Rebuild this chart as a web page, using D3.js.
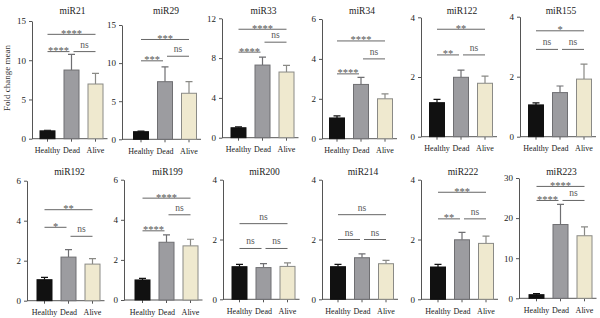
<!DOCTYPE html>
<html>
<head>
<meta charset="utf-8">
<script src="https://cdn.jsdelivr.net/npm/d3@7"></script>
<style>
  body { margin: 0; background: #fff; }
  svg text { font-family: "Liberation Serif", "DejaVu Serif", serif; }
</style>
</head>
<body>
<div id="chart"></div>
<script>
const panels = ["miR21", "miR29", "miR33", "miR34", "miR122", "miR155",
                "miR192", "miR199", "miR200", "miR214", "miR222", "miR223"];
const groups = ["Healthy", "Dead", "Alive"];

// fold change mean per group (Healthy, Dead, Alive)
const means = [
  [1.0, 8.75, 6.97], [1.0, 7.56, 6.04], [1.0, 7.3, 6.6], [1.04, 2.72, 2.0],
  [1.14, 1.99, 1.79], [1.06, 1.47, 1.92], [1.05, 2.18, 1.83], [1.0, 2.88, 2.7],
  [1.09, 1.06, 1.1], [1.09, 1.39, 1.19], [1.08, 1.99, 1.87], [0.9, 18.4, 15.6]
];
// upper error bar length
const errors = [
  [0.08, 2.0, 1.36], [0.08, 1.94, 1.52], [0.08, 0.8, 0.66], [0.1, 0.35, 0.25],
  [0.11, 0.24, 0.24], [0.07, 0.22, 0.5], [0.12, 0.37, 0.27], [0.08, 0.37, 0.33],
  [0.08, 0.13, 0.12], [0.08, 0.13, 0.11], [0.09, 0.25, 0.24], [0.26, 5.0, 2.2]
];
const yTicks = [
  [0, 5, 10, 15], [0, 5, 10, 15], [0, 4, 8, 12], [0, 2, 4, 6], [0, 2, 4], [0, 2, 4],
  [0, 2, 4, 6], [0, 2, 4, 6], [0, 2, 4], [0, 2, 4], [0, 2, 4], [0, 10, 20, 30]
];
// significance: Healthy-Alive, Healthy-Dead, Dead-Alive
const sigLabels = [
  ["****", "****", "ns"], ["***", "***", "ns"], ["****", "****", "ns"], ["****", "****", "ns"],
  ["**", "**", "ns"], ["*", "ns", "ns"], ["**", "*", "ns"], ["****", "****", "ns"],
  ["ns", "ns", "ns"], ["ns", "ns", "ns"], ["***", "**", "ns"], ["****", "****", "ns"]
];
const sigLevels = [
  [13.3, 11.1, 11.1], [13.1, 10.3, 10.9], [10.9, 8.6, 9.6], [4.9, 3.25, 4.0],
  [3.6, 2.74, 2.74], [3.53, 2.91, 2.91], [4.55, 3.67, 3.22], [5.08, 3.45, 4.25],
  [2.53, 1.7, 1.7], [2.83, 2.0, 2.0], [3.58, 2.69, 2.69], [27.9, 24.4, 24.4]
];

// panel layout (pixels)
const axisX = [32, 122, 222, 322, 421, 520, 27, 124, 223, 322, 421, 519];
const barX = [39.5, 133, 230.5, 329, 429, 528, 36.5, 134.5, 231.5, 330, 430, 528.5];
const baseY = [138.7, 139.3, 137.7, 138.7, 136.7, 136.7, 300.7, 300, 299.3, 299.3, 299.3, 298.3];
const topY = [21, 25, 18.3, 19, 17.3, 16.7, 180.7, 179.7, 179.7, 179.7, 179.7, 178];

const fills = { Healthy: "#111111", Dead: "#9c9ca0", Alive: "#efe9cf" };
const strokes = { Healthy: "#111111", Dead: "#6f6f72", Alive: "#8a8a86" };
const ink = "#555";
const serif = "Liberation Serif, DejaVu Serif, serif";

const svg = d3.select("#chart")
  .append("svg")
  .attr("width", 600)
  .attr("height", 318);

svg.append("text")
  .attr("transform", "translate(9.5,78) rotate(-90)")
  .attr("text-anchor", "middle")
  .attr("font-size", 9)
  .attr("fill", "#333")
  .text("Fold change mean");

panels.forEach((name, i) => {
  const g = svg.append("g");
  const row = Math.floor(i / 6);

  const x = d3.scaleBand()
    .domain(groups)
    .range([barX[i] - 4, barX[i] + 68])
    .paddingInner(1 / 3)
    .paddingOuter(1 / 6);

  const y = d3.scaleLinear()
    .domain([0, yTicks[i][yTicks[i].length - 1]])
    .range([baseY[i], topY[i]]);

  // title
  g.append("text")
    .attr("x", x("Dead") + x.bandwidth() / 2 + 1)
    .attr("y", row === 0 ? 13.5 : 175)
    .attr("text-anchor", "middle")
    .attr("font-size", 9.5)
    .attr("fill", "#222")
    .text(name);

  // y axis
  const yAxis = g.append("g")
    .attr("transform", `translate(${axisX[i]},0)`)
    .call(d3.axisLeft(y)
      .tickValues(yTicks[i])
      .tickFormat(d3.format("d"))
      .tickSize(3)
      .tickSizeOuter(0)
      .tickPadding(3))
    .attr("font-family", serif)
    .attr("font-size", 9);
  yAxis.select(".domain").attr("stroke", ink);
  yAxis.selectAll(".tick line").attr("stroke", ink);
  yAxis.selectAll(".tick text").attr("fill", "#222");

  // x axis
  const xAxis = g.append("g")
    .attr("transform", `translate(0,${baseY[i]})`)
    .call(d3.axisBottom(x).tickSize(3).tickSizeOuter(0).tickPadding(6))
    .attr("font-family", serif)
    .attr("font-size", 8);
  xAxis.select(".domain").remove();
  xAxis.append("line")
    .attr("x1", axisX[i])
    .attr("x2", x.range()[1])
    .attr("stroke", ink);
  xAxis.selectAll(".tick line").attr("stroke", ink);
  xAxis.selectAll(".tick text").attr("fill", "#222");

  const rows = groups.map((grp, j) => ({ grp, mean: means[i][j], err: errors[i][j] }));

  // error bars (drawn behind bars)
  g.selectAll(".err")
    .data(rows)
    .enter()
    .append("path")
    .attr("class", "err")
    .attr("fill", "none")
    .attr("stroke", d => strokes[d.grp])
    .attr("stroke-width", 1.2)
    .attr("d", d => {
      const cx = x(d.grp) + x.bandwidth() / 2;
      const yt = y(d.mean + d.err);
      return `M${cx},${y(d.mean)}V${yt}M${cx - 3.5},${yt}H${cx + 3.5}`;
    });

  g.selectAll(".bar")
    .data(rows)
    .enter()
    .append("rect")
    .attr("class", "bar")
    .attr("x", d => x(d.grp) + 0.5)
    .attr("y", d => y(d.mean))
    .attr("width", x.bandwidth() - 1)
    .attr("height", d => y(0) - y(d.mean))
    .attr("fill", d => fills[d.grp])
    .attr("stroke", d => strokes[d.grp])
    .attr("stroke-width", 1);

  // significance brackets
  const cH = x("Healthy") + x.bandwidth() / 2;
  const cD = x("Dead") + x.bandwidth() / 2;
  const cA = x("Alive") + x.bandwidth() / 2;
  const spans = [[cH, cA], [cH, cD - 2], [cD + 2, cA]];
  spans.forEach(([a, b], k) => {
    const ly = y(sigLevels[i][k]);
    const lab = sigLabels[i][k];
    g.append("line")
      .attr("x1", a).attr("x2", b)
      .attr("y1", ly).attr("y2", ly)
      .attr("stroke", "#666")
      .attr("stroke-width", 1);
    g.append("text")
      .attr("x", (a + b) / 2)
      .attr("y", lab === "ns" ? ly - 4 : ly + 2.5)
      .attr("text-anchor", "middle")
      .attr("font-size", lab === "ns" ? 9.5 : 10.5)
      .attr("fill", "#555")
      .text(lab);
  });
});
</script>
</body>
</html>
